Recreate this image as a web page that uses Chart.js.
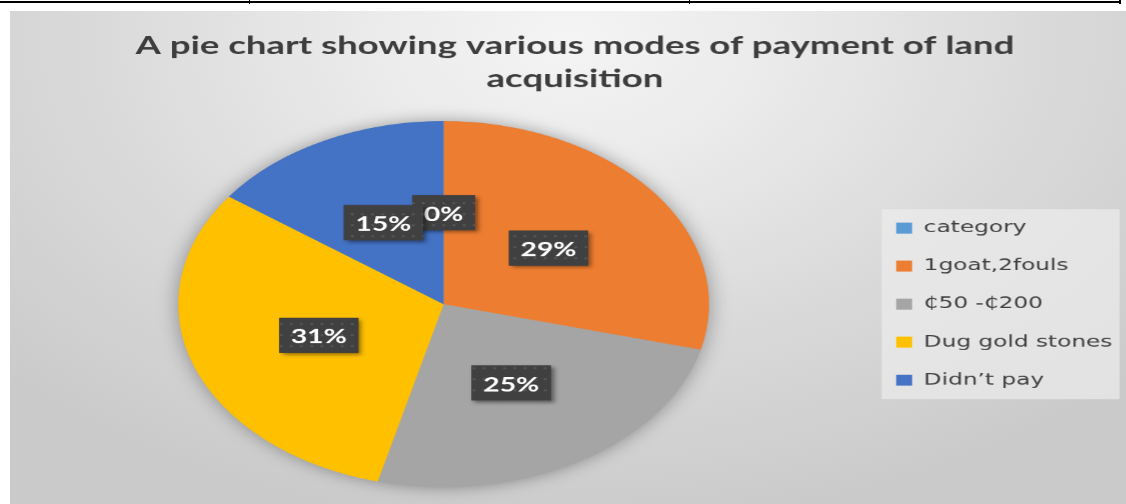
<!DOCTYPE html>
<html>
<head>
<meta charset="utf-8">
<script src="https://cdn.jsdelivr.net/npm/chart.js@4.4.0/dist/chart.umd.min.js"></script>
<style>
  html, body { margin: 0; padding: 0; width: 1126px; height: 504px; overflow: hidden; background: #fff; }
  #rule { position: absolute; left: 0; top: 1px; width: 1121px; height: 2px; background: #000; }
  .tick { position: absolute; top: 0; width: 1px; height: 4px; background: #000; }
  #bg {
    position: absolute; left: 10px; top: 11px; width: 1116px; height: 493px;
    background: radial-gradient(ellipse 70% 100% at 50% 6%, #f4f4f4 0%, #ebebeb 25%, #dadada 60%, #cacaca 100%);
  }
  /* the source picture is stretched sideways, so the chart is drawn narrow and widened */
  #wrap { position: absolute; left: 23px; top: 12px; width: 761px; height: 492px; transform: scaleX(1.45); transform-origin: 0 0; }
</style>
</head>
<body>
<div id="rule"></div>
<div class="tick" style="left:249px"></div>
<div class="tick" style="left:689px"></div>
<div class="tick" style="left:1119px;width:2px"></div>
<div id="bg"></div>
<div id="wrap"><canvas id="grafico" width="761" height="492"></canvas></div>

<script>
// Dados do gráfico
const titleLines = ['A pie chart showing various modes of payment of land', 'acquisition'];
const paymentModes = ['category', '1goat,2fouls', '₵50 -₵200', 'Dug gold stones', 'Didn’t pay'];
const shares = [0, 29, 25, 31, 15];
const sliceColors = ['#5B9BD5', '#ED7D31', '#A5A5A5', '#FFC000', '#4472C4'];

// Padrão pontilhado das etiquetas
function makeDotPattern(ctx) {
    const tile = document.createElement('canvas');
    tile.width = 7;
    tile.height = 11;
    const t = tile.getContext('2d');
    t.fillStyle = '#404040';
    t.fillRect(0, 0, 7, 11);
    t.fillStyle = '#575757';
    t.fillRect(2, 3, 2, 2);
    return ctx.createPattern(tile, 'repeat');
}

// Sombra suave atrás da pizza
const pieShadow = {
    id: 'pieShadow',
    beforeDatasetsDraw(chart) {
        const arc = chart.getDatasetMeta(0).data[0];
        if (!arc) return;
        const ctx = chart.ctx;
        ctx.save();
        ctx.shadowColor = 'rgba(0,0,0,0.35)';
        ctx.shadowBlur = 22;
        ctx.fillStyle = '#a8a8a8';
        ctx.beginPath();
        ctx.arc(arc.x, arc.y, arc.outerRadius, 0, Math.PI * 2);
        ctx.fill();
        ctx.restore();
    }
};

// Fundo claro da legenda
const legendPanel = {
    id: 'legendPanel',
    beforeDraw(chart) {
        const legend = chart.legend;
        const boxes = legend && legend.legendHitBoxes;
        if (!boxes || !boxes.length) return;
        const first = boxes[0];
        const last = boxes[boxes.length - 1];
        const ctx = chart.ctx;
        ctx.save();
        ctx.fillStyle = 'rgba(236,236,236,0.7)';
        const x = first.left - 10;
        const y = first.top - 11;
        ctx.fillRect(x, y, legend.right - 5 - x, last.top + last.height + 11 - y);
        ctx.restore();
    }
};

// Etiquetas de porcentagem
const shareLabels = {
    id: 'shareLabels',
    afterDatasetsDraw(chart) {
        const ctx = chart.ctx;
        const meta = chart.getDatasetMeta(0);
        const pattern = makeDotPattern(ctx);
        ctx.save();
        ctx.font = 'bold 19.5px Lato';
        ctx.textAlign = 'center';
        ctx.textBaseline = 'middle';
        meta.data.forEach((arc, i) => {
            const pos = arc.tooltipPosition();
            const text = shares[i] + '%';
            const w = ctx.measureText(text).width + 16;
            const h = 35;
            ctx.save();
            ctx.shadowColor = 'rgba(0,0,0,0.45)';
            ctx.shadowBlur = 5;
            ctx.shadowOffsetX = 3;
            ctx.shadowOffsetY = 3;
            ctx.fillStyle = '#404040';
            ctx.fillRect(pos.x - w / 2, pos.y - h / 2, w, h);
            ctx.restore();
            ctx.fillStyle = pattern;
            ctx.fillRect(pos.x - w / 2, pos.y - h / 2, w, h);
            ctx.fillStyle = '#ffffff';
            ctx.fillText(text, pos.x, pos.y + 2);
        });
        ctx.restore();
    }
};

new Chart(document.getElementById('grafico'), {
    type: 'pie',
    data: {
        labels: paymentModes,
        datasets: [{
            data: shares,
            backgroundColor: sliceColors,
            borderWidth: 0
        }]
    },
    options: {
        responsive: false,
        animation: false,
        devicePixelRatio: 1.45,
        layout: { padding: { left: 0, right: 0, top: 0, bottom: 17 } },
        plugins: {
            title: {
                display: true,
                text: titleLines,
                color: '#3d3d3d',
                font: { family: 'Lato', weight: 'bold', size: 25.2, lineHeight: 1.31 },
                padding: { top: 17.5, bottom: 25.5 }
            },
            legend: {
                display: true,
                position: 'right',
                fullSize: false,
                labels: {
                    boxWidth: 11,
                    boxHeight: 11,
                    padding: 22,
                    color: '#404040',
                    font: { family: 'DejaVu Sans', size: 16 }
                }
            },
            tooltip: { enabled: false }
        }
    },
    plugins: [pieShadow, legendPanel, shareLabels]
});
</script>
</body>
</html>
